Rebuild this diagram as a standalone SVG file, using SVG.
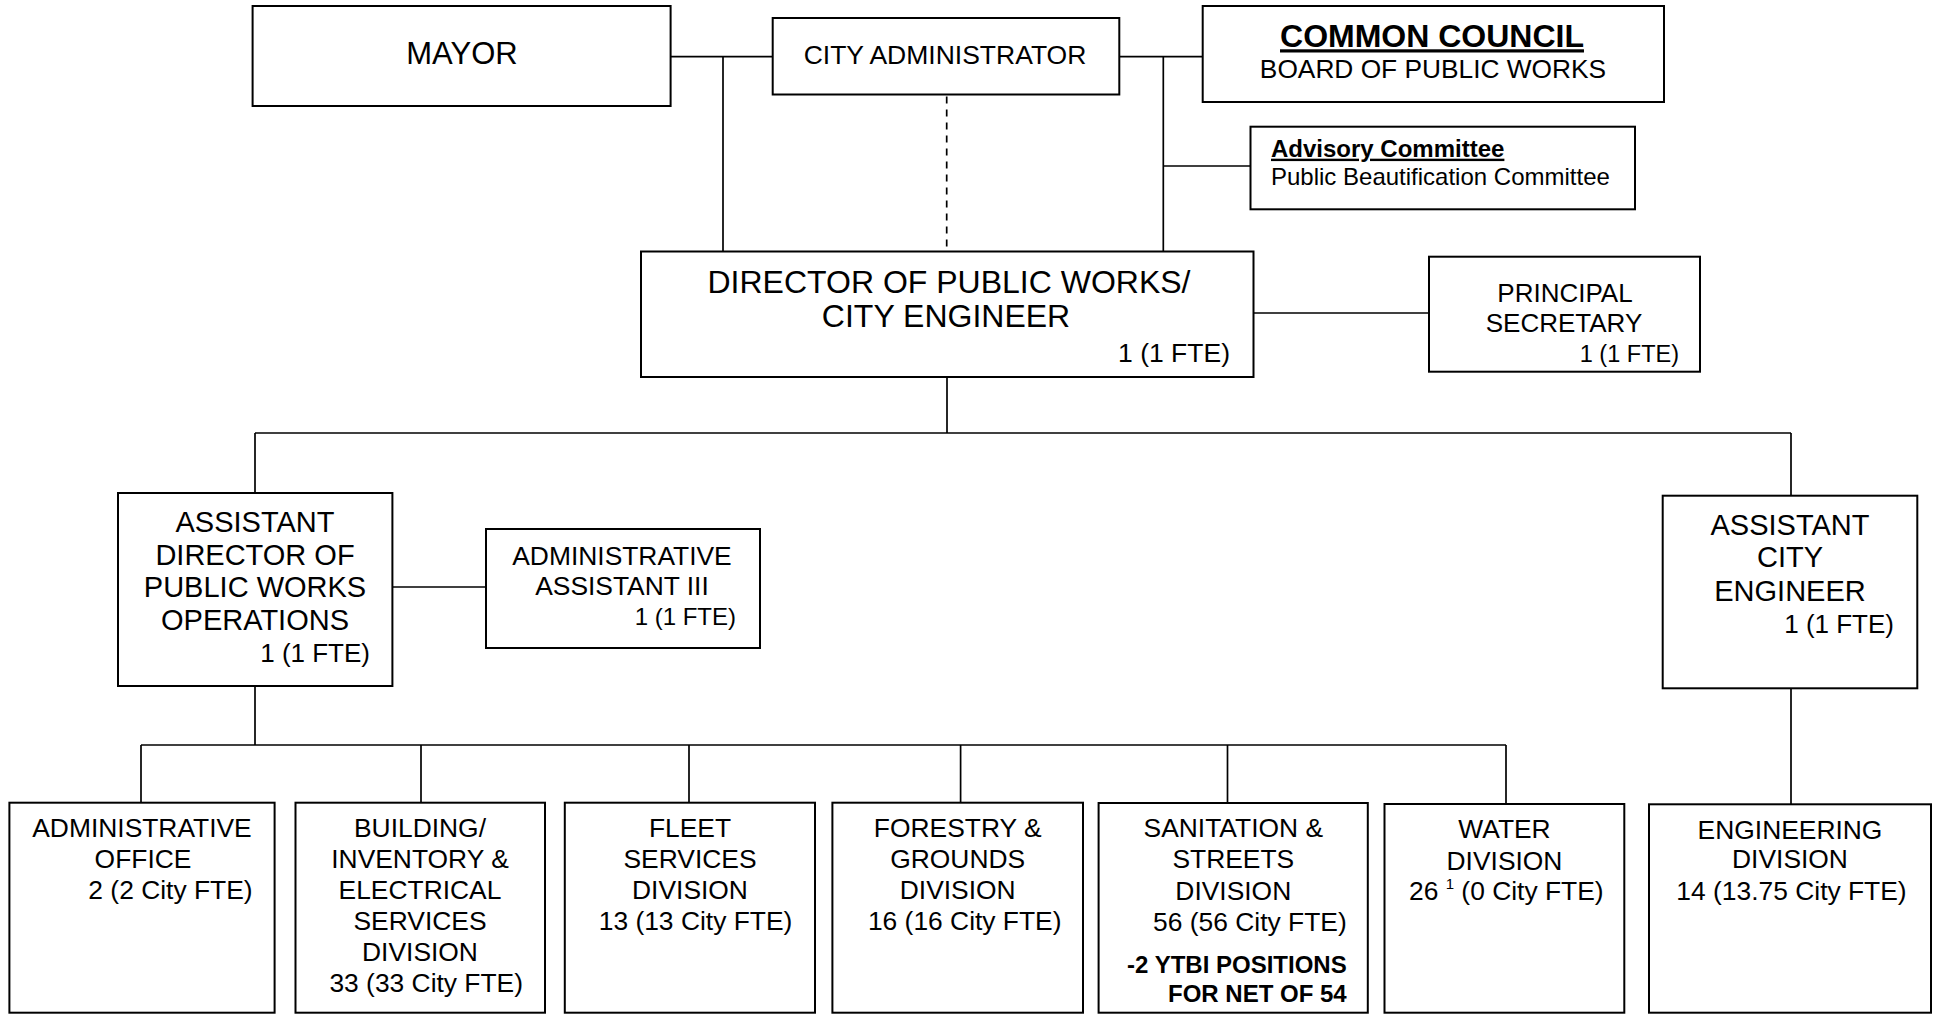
<svg xmlns="http://www.w3.org/2000/svg" width="1940" height="1014" viewBox="0 0 1940 1014">
<style>
  .box { fill: #ffffff; stroke: #000000; stroke-width: 2; }
  .ln { stroke: #000000; stroke-width: 1.7; fill: none; }
  .dash { stroke: #000000; stroke-width: 1.7; fill: none; stroke-dasharray: 7 6; }
  text { font-family: "Liberation Sans", Arial, sans-serif; fill: #000000; }
  .c { text-anchor: middle; }
  .e { text-anchor: end; }
  .b { font-weight: bold; }
  .u { text-decoration: underline; }
  .f26 { font-size: 26.4px; }
</style>
<rect x="0" y="0" width="1940" height="1014" fill="#ffffff"/>

<g id="connectors">
  <line class="ln" x1="671" y1="56.7" x2="773" y2="56.7"/>
  <line class="ln" x1="723" y1="56.7" x2="723" y2="251.5"/>
  <line class="ln" x1="1119" y1="56.7" x2="1203" y2="56.7"/>
  <line class="ln" x1="1163.3" y1="56.7" x2="1163.3" y2="251.5"/>
  <line class="ln" x1="1163.3" y1="166" x2="1250.5" y2="166"/>
  <line class="dash" x1="946.7" y1="96.5" x2="946.7" y2="251.5"/>
  <line class="ln" x1="1253.5" y1="313" x2="1429" y2="313"/>
  <line class="ln" x1="947" y1="377" x2="947" y2="433"/>
  <line class="ln" x1="255" y1="433" x2="1791" y2="433"/>
  <line class="ln" x1="255" y1="433" x2="255" y2="493"/>
  <line class="ln" x1="1791" y1="433" x2="1791" y2="495.7"/>
  <line class="ln" x1="392.4" y1="587" x2="486" y2="587"/>
  <line class="ln" x1="255" y1="686" x2="255" y2="745"/>
  <line class="ln" x1="141" y1="745" x2="1506" y2="745"/>
  <line class="ln" x1="141" y1="745" x2="141" y2="802.7"/>
  <line class="ln" x1="421" y1="745" x2="421" y2="802.7"/>
  <line class="ln" x1="689" y1="745" x2="689" y2="802.7"/>
  <line class="ln" x1="960.6" y1="745" x2="960.6" y2="802.7"/>
  <line class="ln" x1="1227.5" y1="745" x2="1227.5" y2="803"/>
  <line class="ln" x1="1506" y1="745" x2="1506" y2="804"/>
  <line class="ln" x1="1791" y1="688.3" x2="1791" y2="804.3"/>
</g>

<g id="mayor">
  <rect class="box" x="252.6" y="6" width="418" height="100"/>
  <text class="c" x="462" y="64" font-size="31">MAYOR</text>
</g>

<g id="city-administrator">
  <rect class="box" x="772.7" y="18" width="346.6" height="76.5"/>
  <text class="c" x="945" y="64" font-size="26.5">CITY ADMINISTRATOR</text>
</g>

<g id="common-council">
  <rect class="box" x="1202.7" y="6" width="461.3" height="96"/>
  <text class="c b u" x="1432" y="47.3" font-size="32">COMMON COUNCIL</text>
  <text class="c" x="1433" y="78.3" font-size="26.3">BOARD OF PUBLIC WORKS</text>
</g>

<g id="advisory-committee">
  <rect class="box" x="1250.5" y="126.7" width="384.5" height="82.6"/>
  <text class="b u" x="1271" y="156.7" font-size="24">Advisory Committee</text>
  <text x="1271" y="185" font-size="24">Public Beautification Committee</text>
</g>

<g id="director">
  <rect class="box" x="641" y="251.5" width="612.5" height="125.5"/>
  <text class="c" x="949" y="293" font-size="32">DIRECTOR OF PUBLIC WORKS/</text>
  <text class="c" x="946" y="327" font-size="32">CITY ENGINEER</text>
  <text class="e" x="1230" y="362" font-size="26.5">1 (1 FTE)</text>
</g>

<g id="principal-secretary">
  <rect class="box" x="1429" y="256.7" width="271" height="115"/>
  <text class="c" x="1565" y="301.7" font-size="26">PRINCIPAL</text>
  <text class="c" x="1564" y="331.7" font-size="26">SECRETARY</text>
  <text class="e" x="1679" y="361.7" font-size="23.5">1 (1 FTE)</text>
</g>

<g id="assistant-director">
  <rect class="box" x="118" y="493" width="274.4" height="193"/>
  <text class="c" x="255" y="532" font-size="29">ASSISTANT</text>
  <text class="c" x="255" y="564.5" font-size="29">DIRECTOR OF</text>
  <text class="c" x="255" y="597" font-size="29">PUBLIC WORKS</text>
  <text class="c" x="255" y="629.5" font-size="29">OPERATIONS</text>
  <text class="e" x="370" y="662" font-size="26">1 (1 FTE)</text>
</g>

<g id="administrative-assistant">
  <rect class="box" x="486" y="529" width="274" height="119"/>
  <text class="c f26" x="622" y="565">ADMINISTRATIVE</text>
  <text class="c f26" x="622" y="595">ASSISTANT III</text>
  <text class="e" x="736" y="625" font-size="24">1 (1 FTE)</text>
</g>

<g id="assistant-city-engineer">
  <rect class="box" x="1662.7" y="495.7" width="254.6" height="192.6"/>
  <text class="c" x="1790" y="535" font-size="29">ASSISTANT</text>
  <text class="c" x="1790" y="567.3" font-size="29">CITY</text>
  <text class="c" x="1790" y="600.7" font-size="29">ENGINEER</text>
  <text class="e" x="1894" y="633.3" font-size="26">1 (1 FTE)</text>
</g>

<g id="administrative-office">
  <rect class="box" x="9.4" y="802.7" width="265.2" height="210"/>
  <text class="c f26" x="142" y="837">ADMINISTRATIVE</text>
  <text class="c f26" x="143" y="868">OFFICE</text>
  <text class="e f26" x="252.6" y="898.5">2 (2 City FTE)</text>
</g>

<g id="building-division">
  <rect class="box" x="295.5" y="802.7" width="249.5" height="210"/>
  <text class="c f26" x="420" y="837">BUILDING/</text>
  <text class="c f26" x="420" y="868">INVENTORY &amp;</text>
  <text class="c f26" x="420" y="899">ELECTRICAL</text>
  <text class="c f26" x="420" y="930">SERVICES</text>
  <text class="c f26" x="420" y="961">DIVISION</text>
  <text class="e f26" x="523" y="991.7">33 (33 City FTE)</text>
</g>

<g id="fleet-division">
  <rect class="box" x="564.8" y="802.7" width="250.2" height="210"/>
  <text class="c f26" x="690" y="837">FLEET</text>
  <text class="c f26" x="690" y="868">SERVICES</text>
  <text class="c f26" x="690" y="899">DIVISION</text>
  <text class="e f26" x="792.3" y="930">13 (13 City FTE)</text>
</g>

<g id="forestry-division">
  <rect class="box" x="832.4" y="802.7" width="250.6" height="210"/>
  <text class="c f26" x="957.7" y="837">FORESTRY &amp;</text>
  <text class="c f26" x="957.7" y="868">GROUNDS</text>
  <text class="c f26" x="957.7" y="899">DIVISION</text>
  <text class="e f26" x="1061.5" y="930">16 (16 City FTE)</text>
</g>

<g id="sanitation-division">
  <rect class="box" x="1098.6" y="803" width="269.2" height="209.7"/>
  <text class="c f26" x="1233.3" y="836.7">SANITATION &amp;</text>
  <text class="c f26" x="1233.3" y="868.3">STREETS</text>
  <text class="c f26" x="1233.3" y="900">DIVISION</text>
  <text class="e f26" x="1346.7" y="931">56 (56 City FTE)</text>
  <text class="e b" x="1346.7" y="973.3" font-size="24">-2 YTBI POSITIONS</text>
  <text class="e b" x="1346.7" y="1001.7" font-size="24">FOR NET OF 54</text>
</g>

<g id="water-division">
  <rect class="box" x="1384.5" y="804" width="239.8" height="208.7"/>
  <text class="c f26" x="1504.5" y="838">WATER</text>
  <text class="c f26" x="1504.5" y="869.5">DIVISION</text>
  <text class="f26" x="1409" y="900">26 <tspan font-size="15" dy="-11">1</tspan><tspan dy="11"> (0 City FTE)</tspan></text>
</g>

<g id="engineering-division">
  <rect class="box" x="1649" y="804.3" width="282" height="208.4"/>
  <text class="c f26" x="1790" y="839">ENGINEERING</text>
  <text class="c f26" x="1790" y="868.3">DIVISION</text>
  <text class="c f26" x="1791.5" y="900">14 (13.75 City FTE)</text>
</g>
</svg>
